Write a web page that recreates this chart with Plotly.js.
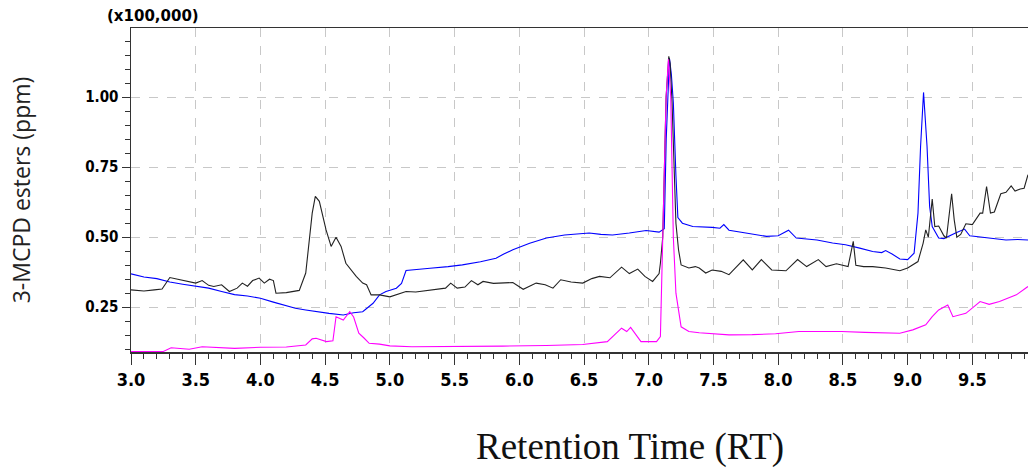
<!DOCTYPE html>
<html>
<head>
<meta charset="utf-8">
<script src="https://cdn.plot.ly/plotly-3.0.1.min.js"></script>
<style>
html,body{margin:0;padding:0;background:#fff;}
#chart{width:1028px;height:470px;}
#chart .xtick text, #chart .ytick text {font-stretch: condensed;}
#chart .annotation:nth-of-type(2) text {font-stretch: condensed;}
</style>
</head>
<body>
<div id="chart"></div>
<script>
// Retention time (min) and response (x100,000)
const rtBlack = [3.00,3.10,3.18,3.24,3.30,3.40,3.50,3.55,3.60,3.64,3.70,3.76,3.82,3.86,3.90,3.94,3.99,4.03,4.07,4.10,4.12,4.20,4.25,4.30,4.35,4.40,4.424,4.455,4.507,4.546,4.584,4.623,4.66,4.74,4.79,4.82,4.855,4.92,5.00,5.06,5.125,5.20,5.31,5.43,5.47,5.52,5.58,5.63,5.68,5.72,5.80,5.95,6.03,6.13,6.20,6.26,6.32,6.40,6.49,6.56,6.62,6.70,6.79,6.85,6.915,6.97,7.03,7.08,7.09,7.108,7.134,7.155,7.165,7.18,7.21,7.23,7.25,7.31,7.36,7.39,7.44,7.49,7.56,7.62,7.73,7.80,7.87,7.95,8.06,8.15,8.22,8.31,8.37,8.45,8.54,8.58,8.60,8.66,8.73,8.83,8.94,9.00,9.08,9.12,9.14,9.16,9.19,9.21,9.24,9.28,9.30,9.34,9.36,9.38,9.41,9.45,9.50,9.56,9.58,9.61,9.64,9.67,9.72,9.76,9.80,9.83,9.87,9.90,9.93];
const valBlack = [0.312,0.308,0.312,0.315,0.356,0.345,0.336,0.345,0.328,0.324,0.330,0.306,0.318,0.336,0.325,0.345,0.354,0.336,0.350,0.345,0.300,0.302,0.305,0.310,0.372,0.586,0.646,0.628,0.526,0.467,0.500,0.467,0.407,0.360,0.336,0.330,0.294,0.294,0.287,0.296,0.306,0.304,0.310,0.318,0.336,0.318,0.322,0.345,0.330,0.342,0.335,0.338,0.314,0.336,0.330,0.318,0.348,0.340,0.336,0.352,0.360,0.355,0.393,0.370,0.386,0.360,0.342,0.370,0.407,0.500,1.000,1.146,1.120,0.980,0.550,0.455,0.401,0.390,0.395,0.390,0.372,0.383,0.378,0.366,0.419,0.383,0.420,0.383,0.380,0.420,0.395,0.420,0.395,0.405,0.395,0.485,0.400,0.395,0.395,0.390,0.380,0.390,0.413,0.479,0.526,0.500,0.636,0.538,0.540,0.505,0.497,0.655,0.562,0.500,0.510,0.548,0.545,0.586,0.586,0.681,0.586,0.590,0.655,0.660,0.683,0.665,0.672,0.675,0.723];

const rtBlue = [3.00,3.10,3.20,3.30,3.40,3.50,3.60,3.70,3.80,3.90,4.00,4.10,4.20,4.27,4.35,4.45,4.53,4.64,4.72,4.79,4.87,4.92,4.97,5.05,5.09,5.125,5.20,5.31,5.45,5.56,5.70,5.82,5.88,5.95,6.08,6.21,6.35,6.54,6.63,6.72,6.85,6.98,7.08,7.12,7.135,7.16,7.175,7.19,7.21,7.225,7.26,7.34,7.49,7.55,7.58,7.62,7.75,7.91,8.00,8.08,8.14,8.30,8.42,8.52,8.63,8.73,8.80,8.83,8.88,8.94,9.00,9.05,9.08,9.10,9.123,9.15,9.17,9.19,9.24,9.28,9.37,9.44,9.48,9.58,9.70,9.76,9.85,9.93];
const valBlue = [0.369,0.358,0.352,0.340,0.332,0.324,0.318,0.306,0.295,0.290,0.282,0.268,0.255,0.246,0.240,0.232,0.228,0.222,0.230,0.234,0.264,0.294,0.306,0.318,0.335,0.381,0.385,0.389,0.395,0.401,0.412,0.425,0.440,0.455,0.478,0.497,0.508,0.515,0.510,0.508,0.515,0.524,0.518,0.530,0.850,1.140,1.080,0.980,0.720,0.570,0.550,0.538,0.535,0.532,0.545,0.525,0.515,0.503,0.505,0.525,0.497,0.490,0.479,0.473,0.461,0.449,0.445,0.452,0.440,0.422,0.420,0.443,0.586,0.824,1.017,0.824,0.610,0.538,0.497,0.495,0.515,0.529,0.505,0.500,0.495,0.490,0.492,0.490];

const rtMagenta = [3.00,3.25,3.31,3.45,3.55,3.70,3.80,4.00,4.20,4.35,4.40,4.43,4.51,4.56,4.584,4.64,4.69,4.72,4.76,4.80,4.84,4.92,5.00,5.17,5.49,5.87,6.21,6.49,6.68,6.79,6.83,6.86,6.94,7.06,7.09,7.108,7.134,7.152,7.17,7.19,7.21,7.25,7.31,7.39,7.62,7.80,7.98,8.16,8.49,8.67,8.94,9.04,9.14,9.19,9.24,9.31,9.35,9.45,9.56,9.63,9.71,9.84,9.93];
const valMagenta = [0.092,0.092,0.105,0.100,0.109,0.104,0.103,0.107,0.108,0.115,0.137,0.139,0.127,0.130,0.216,0.204,0.234,0.215,0.157,0.140,0.121,0.118,0.112,0.109,0.109,0.111,0.113,0.117,0.127,0.175,0.163,0.178,0.127,0.127,0.145,0.500,1.000,1.135,1.000,0.500,0.300,0.180,0.163,0.159,0.151,0.152,0.155,0.163,0.163,0.160,0.157,0.169,0.187,0.216,0.240,0.258,0.216,0.228,0.270,0.260,0.270,0.294,0.324];

const xTitle = "Retention Time (RT)";
const yTitle = "3-MCPD esters (ppm)";
const scaleNote = "(x100,000)";

const tickFont = {family: "'Liberation Sans Narrow', 'DejaVu Sans', sans-serif", weight: 700, color: '#000'};

const traces = [
  {x: rtBlue, y: valBlue, type: 'scatter', mode: 'lines', name: 'Blue', line: {color: '#0000ff', width: 1.1}},
  {x: rtBlack, y: valBlack, type: 'scatter', mode: 'lines', name: 'Black', line: {color: '#222222', width: 1.1}},
  {x: rtMagenta, y: valMagenta, type: 'scatter', mode: 'lines', name: 'Magenta', line: {color: '#ff00ff', width: 1.1}}
];

const layout = {
  width: 1028, height: 470,
  margin: {l: 131, r: 0, t: 28, b: 118},
  paper_bgcolor: '#fff', plot_bgcolor: '#fff',
  showlegend: false,
  xaxis: {
    range: [3.0, 9.93], tick0: 3.0, dtick: 0.5, tickformat: '.1f',
    ticks: 'outside', ticklen: 11, tickwidth: 1, tickcolor: '#333',
    showline: true, linecolor: '#333', linewidth: 1.5, mirror: true,
    showgrid: true, gridcolor: '#c8c8c8', griddash: 'dash', gridwidth: 1,
    zeroline: false,
    tickfont: Object.assign({size: 18}, tickFont),
    minor: {dtick: 0.1, ticks: 'outside', ticklen: 5, tickcolor: '#333', showgrid: false}
  },
  yaxis: {
    range: [0.09, 1.247], tick0: 0, dtick: 0.25, tickformat: '.2f',
    ticks: 'outside', ticklen: 8, tickwidth: 1, tickcolor: '#333',
    showline: true, linecolor: '#333', linewidth: 1.5,
    showgrid: true, gridcolor: '#c8c8c8', griddash: 'dash', gridwidth: 1,
    zeroline: false,
    tickfont: Object.assign({size: 15}, tickFont),
    minor: {dtick: 0.05, ticks: 'outside', ticklen: 5, tickcolor: '#333', showgrid: false},
    title: {text: yTitle, standoff: 44, font: {family: "'Open Sans', 'Noto Sans', sans-serif", size: 23, color: '#222'}}
  },
  annotations: [
    {text: xTitle, xref: 'paper', yref: 'paper', x: (630 - 131) / 897, y: -0.292, xanchor: 'center', yanchor: 'middle', showarrow: false,
     font: {family: "'Liberation Serif', 'DejaVu Serif', serif", size: 37, color: '#111'}},
    {text: scaleNote, xref: 'paper', yref: 'paper', x: (153 - 131) / 897, y: 1.036, xanchor: 'center', yanchor: 'middle', showarrow: false,
     font: Object.assign({size: 15}, tickFont)}
  ]
};

Plotly.newPlot('chart', traces, layout, {displayModeBar: false, staticPlot: true});
</script>
</body>
</html>
